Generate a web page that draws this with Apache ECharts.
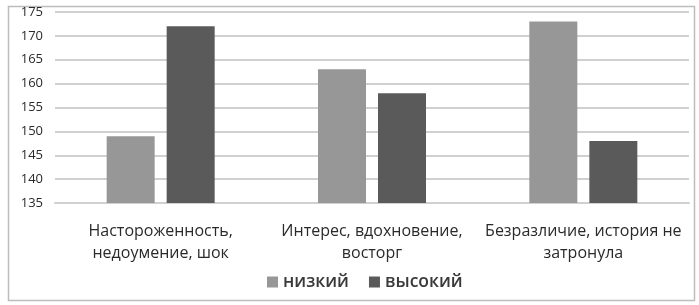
<!DOCTYPE html>
<html><head><meta charset="utf-8">
<script src="https://cdn.jsdelivr.net/npm/echarts@6/dist/echarts.min.js"></script>
<style>
html,body{margin:0;padding:0;background:#fff;}
#c{width:699px;height:305px;}
</style></head>
<body><div id="c"></div>
<script>
const categories = ["Настороженность,\nнедоумение, шок", "Интерес, вдохновение,\nвосторг", "Безразличие, история не\nзатронула"];
const seriesNames = ["низкий", "высокий"];
const lowValues = [149, 163, 173];
const highValues = [172, 158, 148];
const yMin = 135, yMax = 175, yStep = 5;

const chart = echarts.init(document.getElementById('c'), null, {renderer: 'canvas'});
const fontFam = '"Open Sans", "Liberation Sans", sans-serif';
chart.setOption({
  animation: false,
  backgroundColor: '#fff',
  graphic: [{
    type: 'rect', left: 6, top: 4,
    shape: {width: 686, height: 294},
    style: {fill: 'none', stroke: '#bdbdbd', lineWidth: 1.5}
  }],
  grid: {left: 55, right: 10, top: 12, bottom: 102, containLabel: false},
  legend: {
    data: seriesNames, bottom: 9, left: 262,
    itemWidth: 11, itemHeight: 11, itemGap: 20, icon: 'rect',
    textStyle: {fontFamily: fontFam, fontSize: 17.5, color: '#3a3a3a', fontWeight: 600}
  },
  xAxis: {
    type: 'category', data: categories,
    axisLine: {show: true, lineStyle: {color: '#d0d0d0', width: 2}},
    axisTick: {show: false},
    axisLabel: {fontFamily: fontFam, fontSize: 16, color: '#2a2a2a', margin: 17, lineHeight: 22, interval: 0}
  },
  yAxis: {
    type: 'value', min: yMin, max: yMax, interval: yStep,
    axisLine: {show: false}, axisTick: {show: false},
    axisLabel: {fontFamily: fontFam, fontSize: 13, color: '#2a2a2a', margin: 12},
    splitLine: {lineStyle: {color: '#d0d0d0', width: 2}}
  },
  series: [
    {name: seriesNames[0], type: 'bar', data: lowValues, barWidth: 48, barGap: '25%', itemStyle: {color: '#979797'}},
    {name: seriesNames[1], type: 'bar', data: highValues, barWidth: 48, barGap: '25%', itemStyle: {color: '#5a5a5a'}}
  ]
});
</script></body></html>
